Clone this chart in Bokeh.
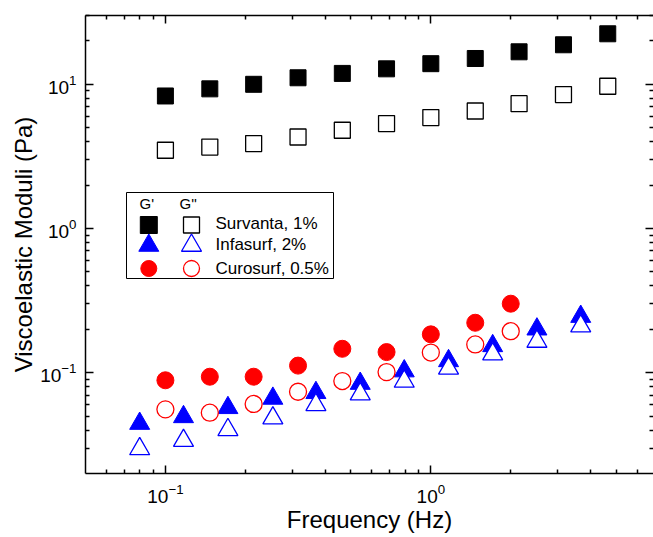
import math
from bokeh.plotting import figure
from bokeh.models import LogAxis, FixedTicker, Label, BoxAnnotation, Range1d
from bokeh.embed import file_html
from bokeh.resources import INLINE

# ---------------- data ----------------
freq_survanta = [0.1, 0.147, 0.215, 0.316, 0.464, 0.681, 1.0, 1.47, 2.15, 3.16, 4.64]
gp_survanta = [8.3, 9.3, 10.0, 11.1, 11.9, 12.8, 13.9, 15.1, 16.8, 18.8, 22.4]
gpp_survanta = [3.49, 3.67, 3.88, 4.31, 4.80, 5.34, 5.88, 6.53, 7.34, 8.49, 9.69]

freq_infasurf = [0.080, 0.117, 0.172, 0.254, 0.369, 0.542, 0.794, 1.166, 1.71, 2.51, 3.67]
gp_infasurf = [0.0444, 0.0494, 0.0571, 0.0663, 0.0726, 0.0841, 0.1026, 0.1208, 0.1535, 0.2003, 0.245]
gpp_infasurf = [0.0296, 0.0338, 0.0402, 0.0484, 0.0599, 0.0711, 0.0870, 0.1071, 0.1345, 0.1647, 0.2104]

freq_curosurf = [0.1, 0.147, 0.215, 0.316, 0.464, 0.681, 1.0, 1.47, 2.0]
gp_curosurf = [0.0886, 0.0938, 0.0938, 0.112, 0.1465, 0.139, 0.1845, 0.222, 0.301]
gpp_curosurf = [0.0557, 0.0528, 0.0607, 0.0738, 0.0875, 0.101, 0.138, 0.157, 0.194]

series_names = ["Survanta, 1%", "Infasurf, 2%", "Curosurf, 0.5%"]
legend_headers = ["G'", "G''"]

x_major = [0.1, 1.0]
x_minor = [0.06, 0.07, 0.08, 0.09, 0.2, 0.3, 0.4, 0.5, 0.6, 0.7, 0.8, 0.9, 2, 3, 4, 5, 6]
y_major = [0.1, 1.0, 10.0]
y_minor = [0.03, 0.04, 0.05, 0.06, 0.07, 0.08, 0.09, 0.2, 0.3, 0.4, 0.5, 0.6, 0.7, 0.8, 0.9,
           2, 3, 4, 5, 6, 7, 8, 9, 20, 30]

x_title = "Frequency (Hz)"
y_title = "Viscoelastic Moduli (Pa)"

# ---------------- layout ----------------
FONT = "Liberation Sans"
W, H = 653, 537
L, R, T, B = 85, 653, 15, 473
X0, X1 = 0.05, 6.9
Y0, Y1 = 0.02, 30.0
LABEL_SHIFT = 6  # Bokeh draws alphabetic-baseline labels a little low


def px2x(px):
    a, b = math.log10(X0), math.log10(X1)
    return 10 ** (a + (px - L) / (R - L) * (b - a))


def px2y(py):
    a, b = math.log10(Y0), math.log10(Y1)
    return 10 ** (b - (py - T) / (B - T) * (b - a))


p = figure(width=W, height=H, x_axis_type="log", y_axis_type="log",
           x_range=Range1d(X0, X1), y_range=Range1d(Y0, Y1),
           output_backend="svg", toolbar_location=None,
           min_border_left=L, min_border_right=W - R,
           min_border_top=T, min_border_bottom=H - B)
p.grid.visible = False
p.outline_line_color = None
p.background_fill_color = "white"
p.border_fill_color = "white"


def style_axis(ax, ticks, minor, show_labels, standoff=8):
    ax.ticker = FixedTicker(ticks=ticks, minor_ticks=minor)
    ax.axis_line_color = "black"
    ax.axis_line_width = 1.5
    ax.major_tick_in = 8
    ax.major_tick_out = 0
    ax.minor_tick_in = 4
    ax.minor_tick_out = 0
    ax.major_tick_line_width = 1.5
    ax.minor_tick_line_width = 1.5
    ax.major_tick_line_color = "black"
    ax.minor_tick_line_color = "black"
    ax.major_label_text_font = FONT
    ax.major_label_text_color = "black"
    ax.axis_label_text_font = FONT
    ax.axis_label_text_font_style = "normal"
    ax.axis_label_text_color = "black"
    ax.axis_label_text_font_size = "24px"
    if show_labels:
        ax.major_label_text_font_size = "19px"
        ax.major_label_standoff = standoff
    else:
        ax.major_label_text_font_size = "1px"
        ax.major_label_text_alpha = 0
        ax.major_label_standoff = 0


style_axis(p.xaxis[0], x_major, x_minor, True, 10)
p.xaxis[0].axis_label = x_title
p.xaxis[0].axis_label_standoff = 0
style_axis(p.yaxis[0], y_major, y_minor, True, 9)
p.yaxis[0].axis_label = y_title
p.yaxis[0].axis_label_standoff = 0
top_axis = LogAxis()
style_axis(top_axis, x_major, x_minor, False)
p.add_layout(top_axis, "above")
right_axis = LogAxis()
style_axis(right_axis, y_major, y_minor, False)
right_axis.axis_line_color = None  # the right spine lies just beyond the picture edge
p.add_layout(right_axis, "right")

# ---------------- data markers ----------------
p.scatter(freq_survanta, gp_survanta, marker="square", size=16,
          fill_color="black", line_color="black", line_width=1)
p.scatter(freq_survanta, gpp_survanta, marker="square", size=16,
          fill_color="white", line_color="black", line_width=1.3)
p.scatter(freq_infasurf, gp_infasurf, marker="triangle", size=20,
          fill_color="blue", line_color="blue", line_width=1)
p.scatter(freq_infasurf, gpp_infasurf, marker="triangle", size=20,
          fill_color="white", line_color="blue", line_width=1.3)
p.scatter(freq_curosurf, gp_curosurf, marker="circle", size=17,
          fill_color="red", line_color="red", line_width=1)
p.scatter(freq_curosurf, gpp_curosurf, marker="circle", size=17,
          fill_color="white", line_color="red", line_width=1.3)

# ---------------- legend (hand built) ----------------
box = BoxAnnotation(left=px2x(126), right=px2x(333), top=px2y(192), bottom=px2y(278),
                    fill_color="white", fill_alpha=1, line_color="black", line_alpha=1,
                    line_width=1, level="underlay")
p.add_layout(box)

for txt, xp in zip(legend_headers, [139, 179]):
    p.add_layout(Label(x=px2x(xp), y=px2y(208.5 - LABEL_SHIFT), text=txt, text_font=FONT,
                       text_font_size="15px", text_color="black", text_baseline="alphabetic"))

leg_specs = [
    ("square", 17, 16, "black", 224.5, 228.5),
    ("triangle", 20, 20, "blue", 245.0, 250.0),
    ("circle", 16, 16, "red", 268.0, 273.5),
]
for name, (mk, s_f, s_o, col, yc, yb) in zip(series_names, leg_specs):
    p.scatter([px2x(148.3)], [px2y(yc)], marker=mk, size=s_f,
              fill_color=col, line_color=col, line_width=1)
    p.scatter([px2x(191)], [px2y(yc)], marker=mk, size=s_o,
              fill_color="white", line_color=col, line_width=1.3)
    p.add_layout(Label(x=px2x(215), y=px2y(yb - LABEL_SHIFT), text=name, text_font=FONT,
                       text_font_size="17px", text_color="black", text_baseline="alphabetic"))

open("out.html", "w").write(file_html(p, INLINE))
